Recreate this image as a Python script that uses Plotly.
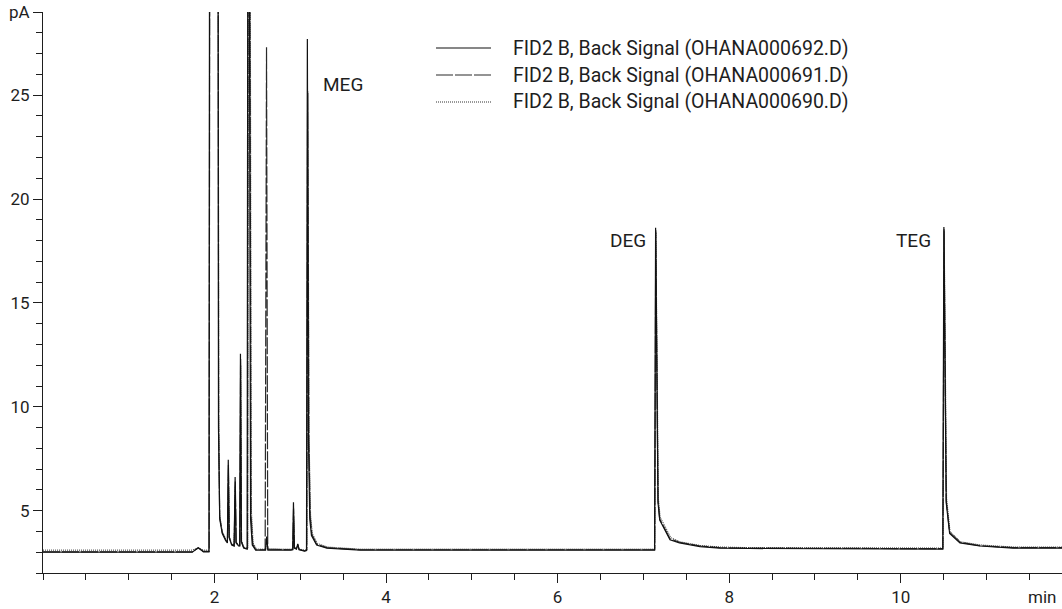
import plotly.graph_objects as go

# ---------------- data ----------------
# Retention time (min) / signal (pA) vertices for each run
t_692 = [0.00, 1.74, 1.81, 1.87, 1.935, 1.942, 2.040, 2.046, 2.06, 2.09, 2.13, 2.150, 2.160, 2.170, 2.20,
         2.228, 2.240, 2.250, 2.28, 2.293, 2.302, 2.312, 2.34, 2.380, 2.388, 2.404, 2.42, 2.44, 2.48,
         2.595, 2.608, 2.622, 2.89, 2.912, 2.920, 2.930, 2.955, 2.970, 2.985, 3.05, 3.072, 3.082,
         3.095, 3.11, 3.13, 3.19, 3.31, 3.46, 3.70, 4.30, 7.130, 7.142, 7.17, 7.19, 7.31, 7.42, 7.66,
         7.89, 8.24, 10.490, 10.503, 10.53, 10.57, 10.69, 10.92, 11.31, 11.88]
y_692 = [3.00, 3.00, 3.22, 3.02, 3.02, 35.0, 35.0, 9.0, 4.6, 3.9, 3.55, 3.45, 7.45, 3.70, 3.35,
         3.30, 6.62, 3.45, 3.30, 3.30, 12.55, 3.50, 3.20, 3.15, 35.0, 35.0, 4.60, 3.35, 3.10,
         3.10, 3.75, 3.10, 3.10, 3.12, 5.40, 3.20, 3.15, 3.40, 3.12, 3.05, 3.08, 27.70,
         8.5, 4.60, 3.80, 3.35, 3.20, 3.15, 3.10, 3.10, 3.10, 18.62, 5.40, 4.55, 3.60, 3.45, 3.27,
         3.20, 3.18, 3.15, 18.65, 5.40, 3.90, 3.45, 3.30, 3.20, 3.20]

t_691 = [0.00, 1.74, 1.81, 1.87, 1.937, 1.944, 2.042, 2.048, 2.06, 2.09, 2.13, 2.150, 2.162, 2.172, 2.20,
         2.228, 2.242, 2.252, 2.28, 2.295, 2.304, 2.314, 2.34, 2.384, 2.392, 2.410, 2.425, 2.445, 2.48,
         2.590, 2.606, 2.620, 2.89, 2.912, 2.921, 2.931, 2.955, 2.970, 2.985, 3.05, 3.075, 3.085,
         3.10, 3.115, 3.135, 3.19, 3.31, 3.46, 3.70, 4.30, 7.132, 7.144, 7.17, 7.19, 7.31, 7.42, 7.66,
         7.89, 8.24, 10.492, 10.505, 10.53, 10.57, 10.69, 10.92, 11.31, 11.88]
y_691 = [3.02, 3.02, 3.20, 3.04, 3.04, 35.0, 35.0, 9.0, 4.7, 3.95, 3.60, 3.48, 7.20, 3.72, 3.38,
         3.32, 6.40, 3.48, 3.32, 3.32, 12.30, 3.52, 3.22, 3.18, 35.0, 35.0, 4.80, 3.40, 3.12,
         3.12, 27.30, 3.15, 3.12, 3.14, 5.10, 3.22, 3.17, 3.38, 3.14, 3.07, 3.10, 25.20,
         8.2, 4.70, 3.85, 3.38, 3.22, 3.17, 3.12, 3.12, 3.12, 18.50, 5.50, 4.60, 3.65, 3.48, 3.30,
         3.22, 3.20, 3.17, 18.55, 5.50, 3.95, 3.48, 3.32, 3.22, 3.22]

t_690 = [0.00, 1.74, 1.81, 1.87, 1.938, 1.945, 2.043, 2.049, 2.06, 2.09, 2.13, 2.150, 2.162, 2.172, 2.20,
         2.228, 2.242, 2.252, 2.28, 2.295, 2.305, 2.315, 2.34, 2.388, 2.396, 2.415, 2.43, 2.45, 2.49,
         2.595, 2.609, 2.623, 2.89, 2.912, 2.921, 2.931, 2.955, 2.970, 2.985, 3.05, 3.078, 3.088,
         3.103, 3.12, 3.14, 3.20, 3.32, 3.47, 3.70, 4.30, 7.134, 7.146, 7.175, 7.195, 7.32, 7.43, 7.67,
         7.90, 8.25, 10.494, 10.507, 10.535, 10.575, 10.70, 10.93, 11.32, 11.88]
y_690 = [3.10, 3.10, 3.22, 3.10, 3.10, 35.0, 35.0, 9.5, 4.8, 4.0, 3.65, 3.50, 7.00, 3.75, 3.40,
         3.35, 6.20, 3.50, 3.35, 3.35, 12.00, 3.55, 3.25, 3.20, 35.0, 35.0, 5.00, 3.45, 3.15,
         3.15, 3.60, 3.15, 3.15, 3.16, 4.90, 3.24, 3.20, 3.35, 3.16, 3.10, 3.12, 25.10,
         8.4, 4.80, 3.90, 3.42, 3.25, 3.20, 3.15, 3.15, 3.15, 18.40, 5.60, 4.70, 3.70, 3.50, 3.32,
         3.25, 3.22, 3.20, 18.45, 5.60, 4.00, 3.50, 3.35, 3.25, 3.25]

series_names = ["FID2 B, Back Signal (OHANA000692.D)",
                "FID2 B, Back Signal (OHANA000691.D)",
                "FID2 B, Back Signal (OHANA000690.D)"]

peak_names = ["MEG", "DEG", "TEG"]
peak_label_t = [3.24, 7.05, 10.38]
peak_label_y = [25.5, 18.0, 18.0]

y_tickvals = [5, 10, 15, 20, 25, 29]
y_ticktext = ["5", "10", "15", "20", "25", "pA"]
x_tickvals = [2, 4, 6, 8, 10]
x_ticktext = ["2", "4", "6", "8", "10"]

# ---------------- styling ----------------
FONT = "Roboto, Liberation Sans, sans-serif"
INK = "#1e1e1e"
styles = [dict(color="#111111", width=1.2, dash="solid"),
          dict(color="#2a2a2a", width=1.2, dash="17px,2px"),
          dict(color="#333333", width=1.0, dash="1px,1px")]

fig = go.Figure()
data = [(t_692, y_692), (t_691, y_691), (t_690, y_690)]
for i in [2, 1, 0]:
    t, y = data[i]
    fig.add_trace(go.Scatter(x=t, y=y, mode="lines", name=series_names[i],
                             line=styles[i], showlegend=False, hoverinfo="skip"))

# peak labels
for name, tx, ty, anc in zip(peak_names, peak_label_t, peak_label_y, ["left", "right", "right"]):
    fig.add_annotation(x=tx, y=ty, text=name, showarrow=False, xanchor=anc, yanchor="middle",
                       font=dict(family=FONT, size=19, color=INK))

# custom legend (line samples + text), paper coordinates
leg_y_px = [48, 75, 102]
plot_top, plot_bottom, plot_left, plot_w = 12, 573, 43, 1019
for i, ypx in enumerate(leg_y_px):
    yp = (plot_bottom - ypx) / (plot_bottom - plot_top)
    fig.add_shape(type="line", xref="paper", yref="paper",
                  x0=(436 - plot_left) / plot_w, x1=(491 - plot_left) / plot_w, y0=yp, y1=yp,
                  line=dict(color=styles[i]["color"], width=1.2, dash=styles[i]["dash"]))
    fig.add_annotation(xref="paper", yref="paper", x=(511 - plot_left) / plot_w, y=yp,
                       text=series_names[i], showarrow=False, xanchor="left", yanchor="middle",
                       font=dict(family=FONT, size=19.5, color=INK))

# "min" unit label
fig.add_annotation(xref="paper", yref="paper", x=1.0, y=-0.0428, text="min", showarrow=False,
                   xanchor="right", yanchor="middle", xshift=-4,
                   font=dict(family=FONT, size=17, color=INK))

fig.update_layout(
    width=1062, height=609,
    margin=dict(l=43, r=0, t=12, b=36),
    paper_bgcolor="white", plot_bgcolor="white",
    font=dict(family=FONT, size=17, color=INK),
    xaxis=dict(range=[0, 11.88], showgrid=False, zeroline=False, showline=True,
               linecolor=INK, linewidth=1, ticks="outside", ticklen=9, tickcolor=INK,
               tickvals=x_tickvals, ticktext=x_ticktext,
               minor=dict(dtick=0.5, tick0=0, ticks="outside", ticklen=6, tickcolor=INK),
               tickfont=dict(family=FONT, size=17, color=INK)),
    yaxis=dict(range=[2, 29], showgrid=False, zeroline=False, showline=True,
               linecolor=INK, linewidth=1, ticks="outside", ticklen=9, tickcolor=INK,
               tickvals=y_tickvals, ticktext=y_ticktext,
               minor=dict(dtick=1, tick0=0, ticks="outside", ticklen=6, tickcolor=INK),
               tickfont=dict(family=FONT, size=17, color=INK)),
)

fig.write_html("out.html")
